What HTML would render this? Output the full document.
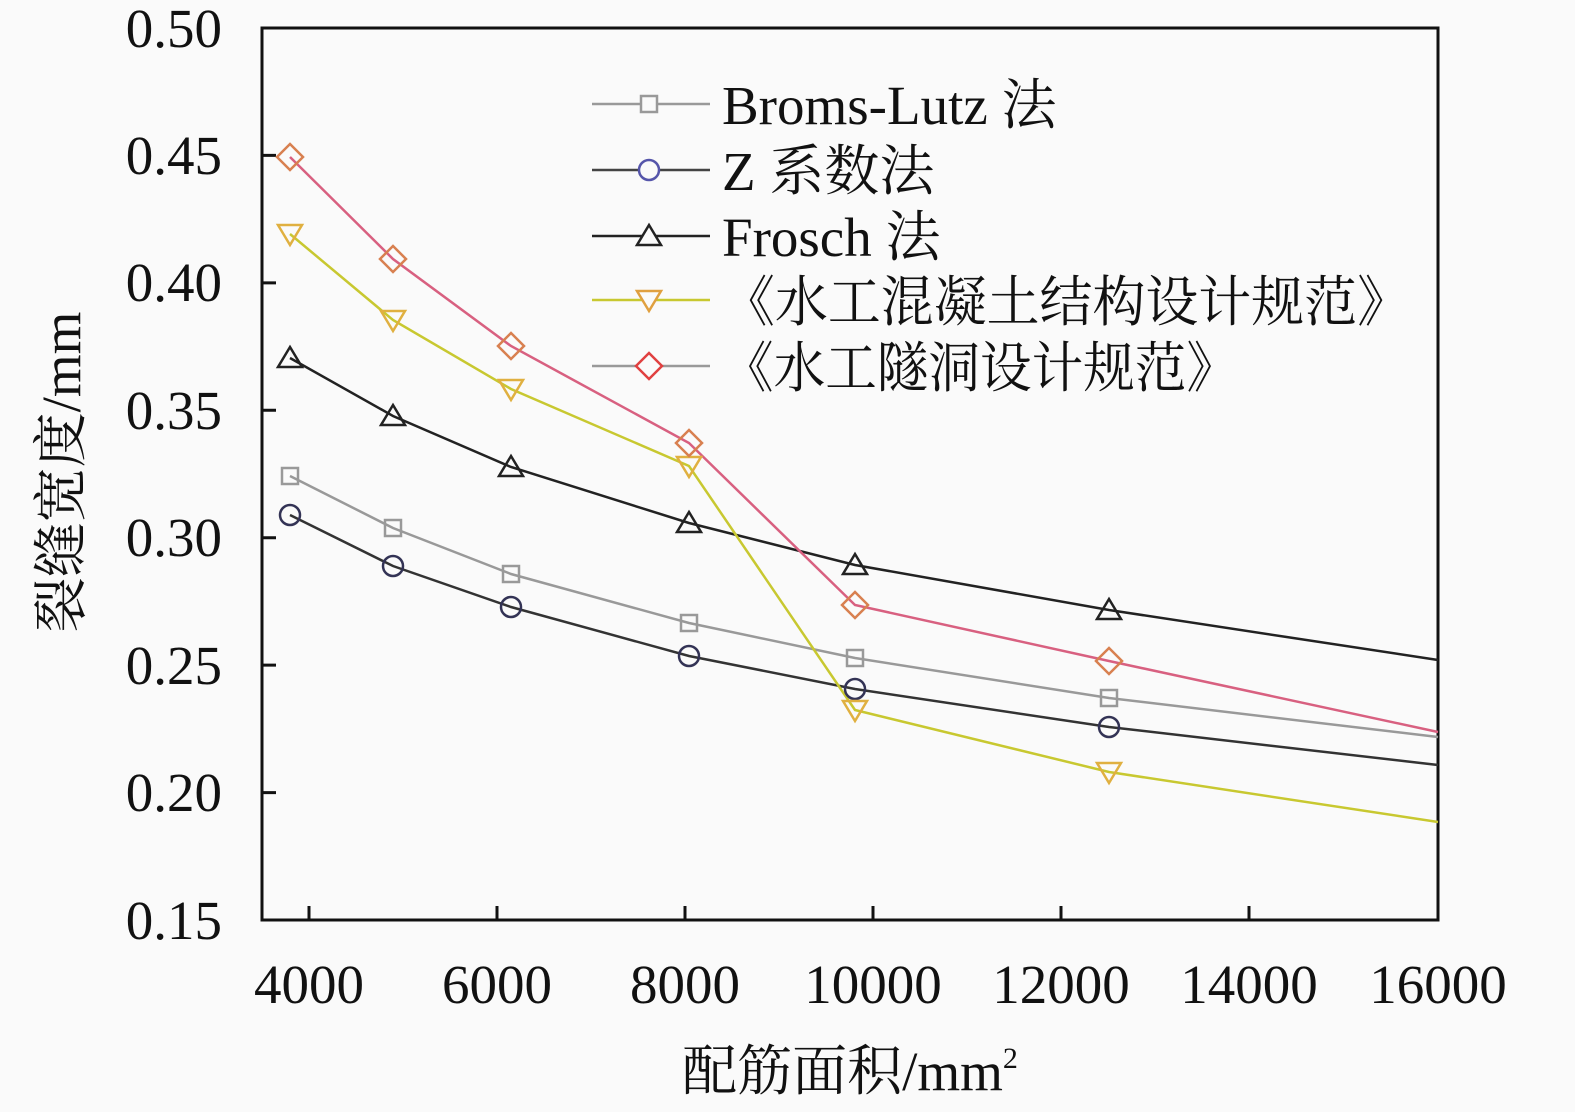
<!DOCTYPE html>
<html><head><meta charset="utf-8"><style>
html,body{margin:0;padding:0;background:#fafafa;}
svg{display:block;}
text{font-family:"Liberation Serif","Noto Serif CJK SC",serif;fill:#111;}
</style></head><body>
<svg width="1575" height="1112" viewBox="0 0 1575 1112" xmlns="http://www.w3.org/2000/svg">
<rect width="1575" height="1112" fill="#fafafa"/>
<g stroke="#111" stroke-width="3" fill="none">
<rect x="262" y="28" width="1176" height="892"/>
<path d="M262 155.4h14M262 282.9h14M262 410.3h14M262 537.7h14M262 665.1h14M262 792.6h14"/>
<path d="M309 920v-14M497 920v-14M685 920v-14M873 920v-14M1061 920v-14M1249 920v-14"/>
</g>
<g font-size="55" text-anchor="end">
<text x="222" y="47">0.50</text><text x="222" y="174">0.45</text><text x="222" y="301">0.40</text>
<text x="222" y="429">0.35</text><text x="222" y="556">0.30</text><text x="222" y="684">0.25</text>
<text x="222" y="811">0.20</text><text x="222" y="939">0.15</text>
</g>
<g font-size="55" text-anchor="middle">
<text x="309" y="1003">4000</text><text x="497" y="1003">6000</text><text x="685" y="1003">8000</text>
<text x="873" y="1003">10000</text><text x="1061" y="1003">12000</text><text x="1249" y="1003">14000</text><text x="1438" y="1003">16000</text>
</g>
<text x="850" y="1090" font-size="55" text-anchor="middle">配筋面积/mm<tspan font-size="30" dy="-22">2</tspan></text>
<text transform="translate(80 472) rotate(-90)" font-size="55" text-anchor="middle">裂缝宽度/mm</text>
<g fill="none" stroke-width="2.5">
<polyline stroke="#999" points="290,476 393,528 511,574 689,623 855,658 1109,698 1438,737"/>
<polyline stroke="#333" points="290,515 393,566 511,607 689,656 855,689 1109,727 1438,765"/>
<polyline stroke="#222" points="290,358 393,416 511,467 689,523 855,565 1109,610 1438,660"/>
<polyline stroke="#c8c830" points="290,234 393,320 511,389 689,466 855,710 1109,772 1438,822"/>
<polyline stroke="#d86080" points="290,157 393,259 511,346 689,443 855,605 1109,661 1438,732"/>
</g>
<g fill="none" stroke-width="2.5">
<g stroke="#999"><rect x="282" y="468" width="16" height="16"/><rect x="385" y="520" width="16" height="16"/><rect x="503" y="566" width="16" height="16"/><rect x="681" y="615" width="16" height="16"/><rect x="847" y="650" width="16" height="16"/><rect x="1101" y="690" width="16" height="16"/></g>
<g stroke="#335"><circle cx="290" cy="515" r="10"/><circle cx="393" cy="566" r="10"/><circle cx="511" cy="607" r="10"/><circle cx="689" cy="656" r="10"/><circle cx="855" cy="689" r="10"/><circle cx="1109" cy="727" r="10"/></g>
<g stroke="#222"><path d="M290 347l12 20h-24z"/><path d="M393 405l12 20h-24z"/><path d="M511 456l12 20h-24z"/><path d="M689 512l12 20h-24z"/><path d="M855 554l12 20h-24z"/><path d="M1109 599l12 20h-24z"/></g>
<g stroke="#e0b040"><path d="M290 245l12-20h-24z"/><path d="M393 331l12-20h-24z"/><path d="M511 400l12-20h-24z"/><path d="M689 477l12-20h-24z"/><path d="M855 721l12-20h-24z"/><path d="M1109 783l12-20h-24z"/></g>
<g stroke="#d88050"><path d="M290 144l13 13-13 13-13-13z"/><path d="M393 246l13 13-13 13-13-13z"/><path d="M511 333l13 13-13 13-13-13z"/><path d="M689 430l13 13-13 13-13-13z"/><path d="M855 592l13 13-13 13-13-13z"/><path d="M1109 648l13 13-13 13-13-13z"/></g>
</g>
<g stroke-width="2.5" fill="none">
<path d="M592 104h118" stroke="#999"/><rect x="641" y="96" width="16" height="16" stroke="#999" fill="#fafafa"/>
<path d="M592 170h118" stroke="#444"/><circle cx="649" cy="170" r="10" stroke="#55a" fill="#fafafa"/>
<path d="M592 236h118" stroke="#222"/><path d="M649 225l12 20h-24z" stroke="#222" fill="#fafafa"/>
<path d="M592 300h118" stroke="#c8c830"/><path d="M649 311l12-20h-24z" stroke="#e0a040" fill="#fafafa"/>
<path d="M592 366h118" stroke="#999"/><path d="M649 353l13 13-13 13-13-13z" stroke="#e04040" fill="#fafafa"/>
</g>
<g font-size="55">
<text x="722" y="124">Broms-Lutz 法</text>
<text x="722" y="190">Z 系数法</text>
<text x="722" y="256">Frosch 法</text>
<text x="722" y="321" textLength="688" lengthAdjust="spacingAndGlyphs">《水工混凝土结构设计规范》</text>
<text x="722" y="387" textLength="516" lengthAdjust="spacingAndGlyphs">《水工隧洞设计规范》</text>
</g>
</svg>
</body></html>
